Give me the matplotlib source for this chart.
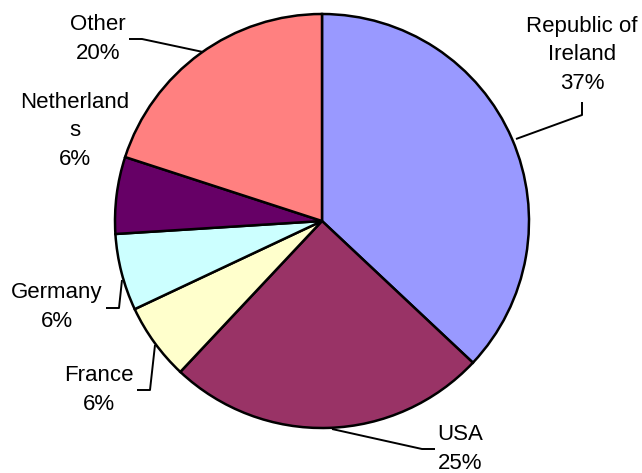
import matplotlib
matplotlib.use("Agg")
import matplotlib.pyplot as plt

plt.rcParams['font.family'] = ['Liberation Sans', 'DejaVu Sans']

# Share of exports by destination
countries = ["Republic of\nIreland", "USA", "France", "Germany", "Netherland\ns", "Other"]
shares = [37, 25, 6, 6, 6, 20]
colors = ["#9999FF", "#993366", "#FFFFCC", "#CCFFFF", "#660066", "#FF8080"]

W, H = 642, 473
fig = plt.figure(figsize=(W / 100, H / 100), dpi=100)
ax = fig.add_axes([0, 0, 1, 1])


def px(x, y):
    """Pixel position (origin top-left) to data coordinates."""
    return x, H - y


cx, cy = px(322, 221)
ax.pie(shares, colors=colors, startangle=90, counterclock=False,
       center=(cx, cy), radius=207,
       wedgeprops=dict(edgecolor="black", linewidth=1.8))

# label block centres and leader lines (pixel space)
label_pos = [(582, 55), (460, 449), (99, 390), (57, 307), (75, 131), (98, 39)]
leaders = [
    [(516, 139), (582, 115), (582, 102)],
    [(332, 429), (422, 449), (435, 449)],
    [(155, 345), (150, 390), (137, 390)],
    [(122, 280), (119, 308), (106, 308)],
    None,
    [(203, 52), (142, 39), (129, 39)],
]

for name, val, (lx, ly), lead in zip(countries, shares, label_pos, leaders):
    x, y = px(lx, ly)
    ax.text(x, y, f"{name}\n{val}%", ha="center", va="center",
            fontsize=16, linespacing=1.45, multialignment="center")
    if lead:
        xs = [p[0] for p in lead]
        ys = [H - p[1] for p in lead]
        ax.plot(xs, ys, color="black", linewidth=1.4, solid_capstyle="butt")

ax.set_xlim(0, W)
ax.set_ylim(0, H)
ax.set_aspect("auto")
ax.axis("off")

fig.savefig("out.png", dpi=100, facecolor="white")
